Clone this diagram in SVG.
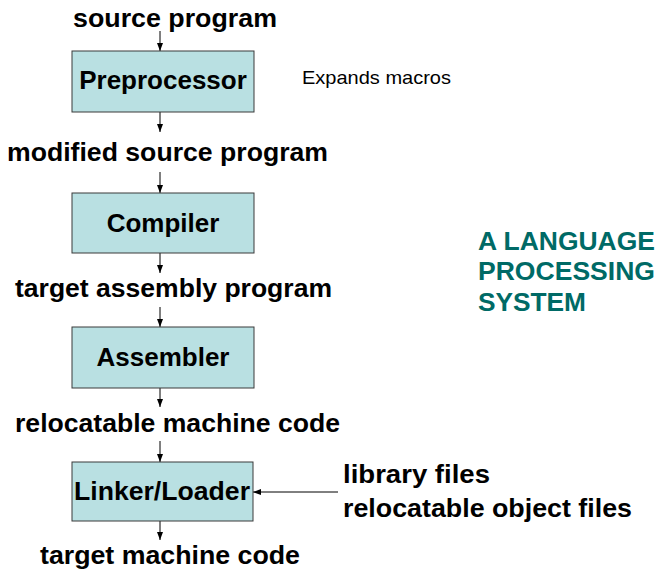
<svg xmlns="http://www.w3.org/2000/svg" width="659" height="570" viewBox="0 0 659 570">
<style>
.box{fill:#b9e0e2;stroke:#3a3a3a;stroke-width:1}
.t{font-family:"Liberation Sans",Arial,sans-serif;font-weight:bold;fill:#000}
.lbl{font-size:26px}
.nt{font-size:26px;text-anchor:middle}
.sm{font-size:19px;font-weight:normal}
.b2{font-size:25px}
.title{font-family:"Liberation Sans",Arial,sans-serif;font-weight:bold;font-size:25px;fill:#006a66}
.c{stroke:#000;stroke-width:1;fill:none;marker-end:url(#ah)}
</style>
<defs>
<marker id="ah" viewBox="0 0 8 8" refX="8" refY="4" markerWidth="8" markerHeight="8" markerUnits="userSpaceOnUse" orient="auto">
<path d="M0,1 L8,4 L0,7 Z" fill="#000"/>
</marker>
</defs>
<rect width="659" height="570" fill="#fff"/>
<g id="connectors">
<line class="c" x1="160" y1="31" x2="160" y2="51"/>
<line class="c" x1="160" y1="112" x2="160" y2="132"/>
<line class="c" x1="160" y1="172" x2="160" y2="193"/>
<line class="c" x1="160" y1="253" x2="160" y2="273"/>
<line class="c" x1="160" y1="307" x2="160" y2="327"/>
<line class="c" x1="160" y1="388" x2="160" y2="407"/>
<line class="c" x1="160" y1="441" x2="160" y2="462"/>
<line class="c" x1="160" y1="521" x2="160" y2="540"/>
<line class="c" x1="338" y1="492" x2="253" y2="492"/>
</g>
<g id="source">
<text class="t lbl" x="73" y="27" textLength="204" lengthAdjust="spacingAndGlyphs">source program</text>
</g>
<g id="preprocessor">
<rect class="box" x="72" y="51" width="182" height="61"/>
<text class="t nt" x="163" y="89">Preprocessor</text>
</g>
<g id="expands">
<text class="t sm" x="302" y="84" textLength="149" lengthAdjust="spacingAndGlyphs">Expands macros</text>
</g>
<g id="modified">
<text class="t lbl" x="7" y="161" textLength="321" lengthAdjust="spacingAndGlyphs">modified source program</text>
</g>
<g id="compiler">
<rect class="box" x="72" y="193" width="182" height="60"/>
<text class="t nt" x="163" y="232">Compiler</text>
</g>
<g id="target-asm">
<text class="t lbl" x="15" y="297" textLength="317" lengthAdjust="spacingAndGlyphs">target assembly program</text>
</g>
<g id="assembler">
<rect class="box" x="72" y="327" width="182" height="61"/>
<text class="t nt" x="163" y="366">Assembler</text>
</g>
<g id="relocatable">
<text class="t b2" x="15" y="432" textLength="325" lengthAdjust="spacingAndGlyphs">relocatable machine code</text>
</g>
<g id="linker">
<rect class="box" x="72" y="462" width="181" height="59"/>
<text class="t b2" x="74" y="500" textLength="176" lengthAdjust="spacingAndGlyphs">Linker/Loader</text>
</g>
<g id="libs">
<text class="t b2" x="343" y="483" textLength="147" lengthAdjust="spacingAndGlyphs">library files</text>
<text class="t b2" x="343" y="517" textLength="289" lengthAdjust="spacingAndGlyphs">relocatable object files</text>
</g>
<g id="target-mc">
<text class="t b2" x="40" y="564" textLength="260" lengthAdjust="spacingAndGlyphs">target machine code</text>
</g>
<g id="title">
<text class="title" x="478" y="250" textLength="177" lengthAdjust="spacingAndGlyphs">A LANGUAGE</text>
<text class="title" x="478" y="280" textLength="177" lengthAdjust="spacingAndGlyphs">PROCESSING</text>
<text class="title" x="478" y="311" textLength="108" lengthAdjust="spacingAndGlyphs">SYSTEM</text>
</g>
</svg>
